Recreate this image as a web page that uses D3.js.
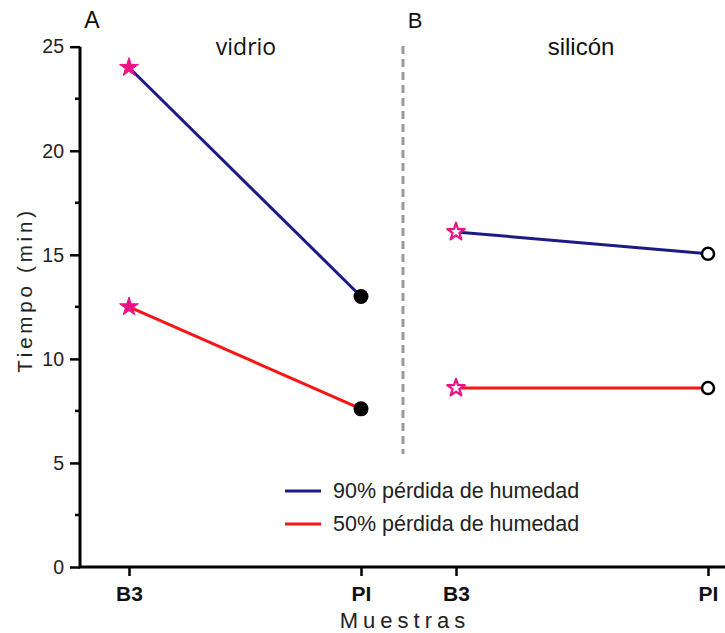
<!DOCTYPE html>
<html>
<head>
<meta charset="utf-8">
<script src="https://cdn.jsdelivr.net/npm/d3@7"></script>
<style>
  html, body { margin: 0; padding: 0; background: #fff; }
  svg { display: block; font-family: "Liberation Sans", Arial, sans-serif; }
</style>
</head>
<body>
<svg id="chart" width="725" height="633"></svg>
<script>
// ---- data ----
const samples = ["B3", "PI"];
const panels = ["vidrio", "silicón"];
const panelLetters = ["A", "B"];
const vidrio90 = [24, 13];
const vidrio50 = [12.5, 7.6];
const silicon90 = [16.1, 15.05];
const silicon50 = [8.6, 8.6];
const yTicks = [0, 5, 10, 15, 20, 25];
const yMinorTicks = [2.5, 7.5, 12.5, 17.5, 22.5];
const seriesNames = ["90% pérdida de humedad", "50% pérdida de humedad"];

// ---- styles ----
const blue = "#1c1a86";
const red = "#fa1414";
const pink = "#ec1184";

const svg = d3.select("#chart");

const y = d3.scaleLinear().domain([0, 25]).range([567, 46.7]);
const xA = d3.scalePoint().domain(samples).range([129, 361]);
const xB = d3.scalePoint().domain(samples).range([456, 708]);

// y axis
const yAxis = d3.axisLeft(y).tickValues(yTicks).tickSize(10).tickPadding(6).tickFormat(d3.format("d"));
const gy = svg.append("g").attr("transform", "translate(80,0)").call(yAxis);
gy.select(".domain").attr("stroke", "#000").attr("stroke-width", 3).attr("d", `M0,${y(25)}V${y(0)}`);
gy.selectAll(".tick line").attr("stroke", "#000").attr("stroke-width", 2.5);
gy.selectAll(".tick text").attr("font-size", 19.5).attr("fill", "#222").attr("font-family", "Liberation Sans, Arial, sans-serif");
svg.append("g").selectAll("line").data(yMinorTicks).join("line")
  .attr("x1", 75).attr("x2", 80).attr("y1", d => y(d)).attr("y2", d => y(d))
  .attr("stroke", "#000").attr("stroke-width", 2.5);

// x axis
svg.append("line").attr("x1", 79).attr("x2", 725).attr("y1", y(0)).attr("y2", y(0))
  .attr("stroke", "#000").attr("stroke-width", 3);
const xScales = [xA, xB];
xScales.forEach(xs => {
  const g = svg.append("g").attr("transform", `translate(0,${y(0)})`)
    .call(d3.axisBottom(xs).tickSize(9).tickPadding(10));
  g.select(".domain").remove();
  g.selectAll(".tick line").attr("stroke", "#000").attr("stroke-width", 2.5);
  g.selectAll(".tick text").attr("font-size", 21).attr("font-weight", "bold").attr("fill", "#111")
    .attr("font-family", "Liberation Sans, Arial, sans-serif");
});

// axis titles
svg.append("text").attr("x", 405).attr("y", 628).attr("text-anchor", "middle")
  .attr("font-size", 22).attr("letter-spacing", "5px").attr("fill", "#222").text("Muestras");
svg.append("text").attr("transform", "translate(32,290) rotate(-90)").attr("text-anchor", "middle")
  .attr("font-size", 20.5).attr("letter-spacing", "3.8px").attr("fill", "#222").text("Tiempo (min)");

// divider
svg.append("line").attr("x1", 403).attr("x2", 403).attr("y1", 46).attr("y2", 454)
  .attr("stroke", "#999").attr("stroke-width", 3).attr("stroke-dasharray", "8,5");

// panel labels
svg.append("text").attr("x", 92).attr("y", 28).attr("text-anchor", "middle").attr("font-size", 23).attr("fill", "#111").text(panelLetters[0]);
svg.append("text").attr("x", 415).attr("y", 28).attr("text-anchor", "middle").attr("font-size", 22).attr("fill", "#111").text(panelLetters[1]);
svg.append("text").attr("x", 246).attr("y", 55).attr("text-anchor", "middle").attr("font-size", 23).attr("fill", "#111")
  .attr("font-family", "Open Sans, sans-serif").text(panels[0]);
svg.append("text").attr("x", 581).attr("y", 55).attr("text-anchor", "middle").attr("font-size", 24).attr("fill", "#111").text(panels[1]);

// lines and markers
const line = (xs) => d3.line().x((d, i) => xs(samples[i])).y(d => y(d));
const groups = [
  { xs: xA, data: vidrio90, color: blue, filled: true },
  { xs: xA, data: vidrio50, color: red, filled: true },
  { xs: xB, data: silicon90, color: blue, filled: false },
  { xs: xB, data: silicon50, color: red, filled: false }
];
groups.forEach(gp => {
  svg.append("path").datum(gp.data).attr("d", line(gp.xs))
    .attr("fill", "none").attr("stroke", gp.color).attr("stroke-width", 3);
});
const star = d3.symbol().type(d3.symbolStar);
groups.forEach(gp => {
  // star at B3
  svg.append("path")
    .attr("d", star.size(gp.filled ? 110 : 95)())
    .attr("transform", `translate(${gp.xs(samples[0])},${y(gp.data[0])})`)
    .attr("fill", gp.filled ? pink : "#fff")
    .attr("stroke", pink).attr("stroke-width", gp.filled ? 1 : 2.2).attr("stroke-linejoin", "round");
  // circle at PI
  svg.append("circle")
    .attr("cx", gp.xs(samples[1])).attr("cy", y(gp.data[1]))
    .attr("r", gp.filled ? 7.5 : 6)
    .attr("fill", gp.filled ? "#000" : "#fff")
    .attr("stroke", "#000").attr("stroke-width", gp.filled ? 0 : 2.5);
});

// legend
const legendColors = [blue, red];
const lg = svg.append("g");
seriesNames.forEach((name, i) => {
  const yy = 491 + i * 33;
  lg.append("line").attr("x1", 285).attr("x2", 321).attr("y1", yy).attr("y2", yy)
    .attr("stroke", legendColors[i]).attr("stroke-width", 3);
  lg.append("text").attr("x", 333).attr("y", yy + 7).attr("font-size", 21.5).attr("fill", "#222").text(name);
});
</script>
</body>
</html>
